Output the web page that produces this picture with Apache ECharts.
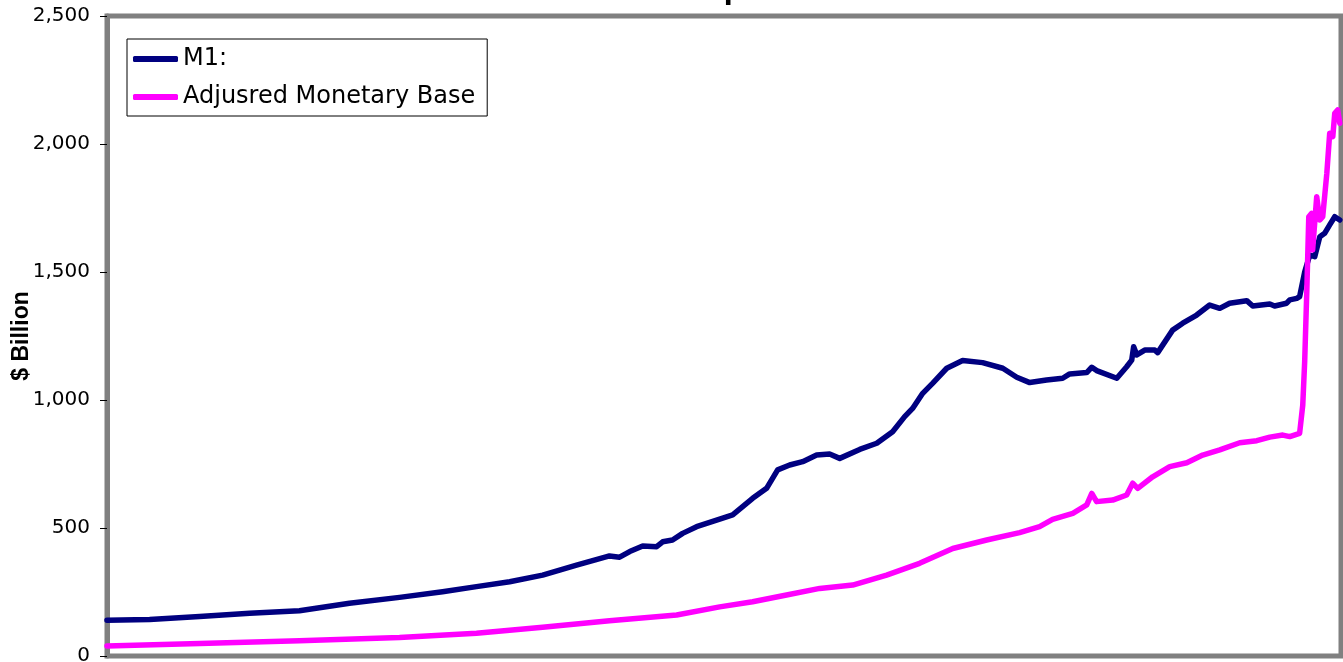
<!DOCTYPE html>
<html>
<head>
<meta charset="utf-8">
<script src="https://cdn.jsdelivr.net/npm/echarts@6/dist/echarts.min.js"></script>
<style>
  html, body { margin: 0; padding: 0; background: #fff; }
  #chart { width: 1343px; height: 662px; }
</style>
</head>
<body>
<div id="chart"></div>
<script>
// M1 money stock, $ billion, by decimal year
const m1Dates = [1959.00, 1960.77, 1962.85, 1964.93, 1967.00, 1969.08, 1971.16, 1972.95, 1974.36, 1975.74,
  1977.11, 1978.52, 1979.89, 1980.31, 1980.73, 1981.27, 1981.85, 1982.10, 1982.51, 1982.93,
  1983.51, 1984.47, 1985.01, 1985.84, 1986.42, 1986.88, 1987.38, 1987.92, 1988.50, 1989.04,
  1989.46, 1990.29, 1991.00, 1991.66, 1992.16, 1992.49, 1992.91, 1993.32, 1993.91, 1994.57,
  1995.40, 1996.24, 1996.82, 1997.36, 1998.06, 1998.73, 1999.02, 1999.73, 1999.94, 2000.14,
  2000.98, 2001.39, 2001.60, 2001.68, 2001.81, 2002.14, 2002.56, 2002.68, 2003.30, 2003.72,
  2004.30, 2004.84, 2005.26, 2005.67, 2006.38, 2006.63, 2007.34, 2007.54, 2008.04, 2008.17,
  2008.46, 2008.58, 2008.67, 2008.79, 2009.00, 2009.21, 2009.42, 2009.62, 2009.83, 2010.04,
  2010.25];
const m1Values = [140, 143, 154, 167, 177, 206, 229, 251, 271, 290,
  316, 355, 391, 386, 408, 430, 427, 446, 453, 479,
  505, 535, 551, 616, 655, 727, 746, 759, 785, 789,
  772, 807, 831, 876, 935, 967, 1026, 1065, 1124, 1154,
  1146, 1124, 1089, 1068, 1078, 1085, 1102, 1107, 1128, 1115,
  1085, 1130, 1156, 1208, 1176, 1195, 1195, 1185, 1273, 1300,
  1332, 1371, 1358, 1378, 1388, 1367, 1375, 1367, 1378, 1391,
  1397, 1404, 1445, 1500, 1566, 1560, 1638, 1651, 1684, 1716,
  1703];

// Adjusted monetary base, $ billion, by decimal year
const baseDates = [1959.00, 1962.85, 1967.00, 1971.16, 1974.36, 1977.11, 1979.89, 1982.68, 1984.47, 1985.84,
  1987.25, 1988.63, 1990.00, 1991.41, 1992.78, 1994.16, 1995.57, 1996.94, 1997.77, 1998.31,
  1999.15, 1999.73, 1999.94, 2000.14, 2000.81, 2001.39, 2001.64, 2001.85, 2002.47, 2003.18,
  2003.89, 2004.55, 2005.26, 2006.09, 2006.80, 2007.34, 2007.88, 2008.17, 2008.58, 2008.71,
  2008.79, 2008.88, 2008.96, 2009.08, 2009.12, 2009.29, 2009.42, 2009.54, 2009.71, 2009.83,
  2009.96, 2010.04, 2010.16, 2010.25];
const baseValues = [39, 49, 60, 72, 89, 112, 138, 160, 192, 212,
  238, 264, 277, 316, 362, 420, 453, 482, 505, 534,
  557, 590, 635, 603, 609, 629, 675, 655, 700, 740,
  755, 785, 805, 833, 841, 855, 863, 857, 870, 980,
  1150, 1430, 1716, 1729, 1586, 1794, 1703, 1716, 1885, 2042,
  2029, 2120, 2133, 2081];

const yTicks = [0, 500, 1000, 1500, 2000, 2500];
const seriesNames = ['M1:', 'Adjusred Monetary Base'];
const chartTitle = 'M1 Comparison';
const yTitle = '$ Billion';

const zip = (xs, ys) => xs.map((x, i) => [x, ys[i]]);

const chart = echarts.init(document.getElementById('chart'), null, { renderer: 'canvas' });

chart.setOption({
  animation: false,
  backgroundColor: '#ffffff',
  graphic: [{
    type: 'text',
    x: 720,
    y: 5,
    silent: true,
    style: {
      text: chartTitle,
      fill: '#000',
      font: 'bold 26px "DejaVu Sans"',
      align: 'center',
      verticalAlign: 'bottom',
      textAlign: 'center',
      textVerticalAlign: 'bottom'
    }
  }],
  legend: {
    orient: 'vertical',
    left: 127,
    top: 39,
    padding: [6, 12, 5, 6],
    itemGap: 10,
    itemWidth: 45,
    itemHeight: 6,
    icon: 'roundRect',
    backgroundColor: '#ffffff',
    borderColor: '#000000',
    borderWidth: 1,
    borderRadius: 0,
    textStyle: {
      fontFamily: 'DejaVu Sans',
      fontSize: 24,
      color: '#000',
      lineHeight: 28
    },
    data: seriesNames
  },
  grid: {
    left: 107,
    right: 2,
    top: 16,
    bottom: 6,
    containLabel: false,
    outerBoundsMode: 'none',
    show: true,
    borderColor: '#808080',
    borderWidth: 5,
    backgroundColor: '#ffffff'
  },
  xAxis: {
    type: 'value',
    min: 1959,
    max: 2010.3,
    axisLine: { show: false },
    axisTick: { show: false },
    axisLabel: { show: false },
    splitLine: { show: false }
  },
  yAxis: {
    type: 'value',
    min: yTicks[0],
    max: yTicks[yTicks.length - 1],
    interval: 500,
    name: yTitle,
    nameLocation: 'middle',
    nameRotate: 90,
    nameGap: 74,
    nameMoveOverlap: false,
    nameTextStyle: {
      fontFamily: 'Liberation Sans',
      fontWeight: 'bold',
      fontSize: 23,
      color: '#000'
    },
    axisLine: { show: true, lineStyle: { color: '#808080', width: 5 } },
    axisTick: { show: true, inside: false, length: 7, lineStyle: { color: '#000', width: 1 } },
    axisLabel: {
      margin: 17,
      fontFamily: 'DejaVu Sans',
      fontSize: 20,
      color: '#000',
      formatter: v => v.toLocaleString('en-US')
    },
    splitLine: { show: false }
  },
  series: [
    {
      name: seriesNames[0],
      type: 'line',
      showSymbol: false,
      symbol: 'none',
      color: '#000080',
      lineStyle: { color: '#000080', width: 5.5, cap: 'round', join: 'round' },
      data: zip(m1Dates, m1Values)
    },
    {
      name: seriesNames[1],
      type: 'line',
      showSymbol: false,
      symbol: 'none',
      color: '#ff00ff',
      lineStyle: { color: '#ff00ff', width: 5.5, cap: 'round', join: 'round' },
      data: zip(baseDates, baseValues)
    }
  ]
});
</script>
</body>
</html>
